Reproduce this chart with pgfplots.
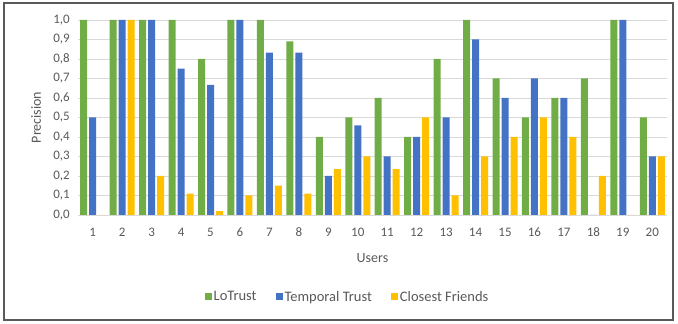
\documentclass[border=0pt]{standalone}
\usepackage{pgfplots}
\pgfplotsset{compat=1.18}
\usepackage{pgfplotstable}
\usepackage{fontspec}
\setmainfont{Carlito}
\definecolor{cgreen}{HTML}{70AD47}
\definecolor{cblue}{HTML}{4472C4}
\definecolor{cgold}{HTML}{FFC000}
\definecolor{ctext}{HTML}{595959}
\definecolor{cgrid}{HTML}{D9D9D9}
\pgfplotstableread{
user lotrust temporal closest
1  1.00 0.50  0.00
2  1.00 1.00  1.00
3  1.00 1.00  0.20
4  1.00 0.75  0.11
5  0.80 0.667 0.02
6  1.00 1.00  0.10
7  1.00 0.833 0.15
8  0.89 0.833 0.11
9  0.40 0.20  0.235
10 0.50 0.46  0.30
11 0.60 0.30  0.235
12 0.40 0.40  0.50
13 0.80 0.50  0.10
14 1.00 0.90  0.30
15 0.70 0.60  0.40
16 0.50 0.70  0.50
17 0.60 0.60  0.40
18 0.70 0.00  0.20
19 1.00 1.00  0.00
20 0.50 0.30  0.30
}\datatable
\begin{document}
\begin{tikzpicture}[x=1pt,y=1pt]
\useasboundingbox (0,0) rectangle (678,324);
\draw[color=black!65, line width=1.2pt] (4,4) rectangle (673,321);
\begin{axis}[
  at={(78pt,109pt)}, anchor=south west,
  scale only axis, width=589pt, height=195pt,
  ybar=2pt, bar width=7pt,
  xmin=0.5, xmax=20.5, ymin=0, ymax=1,
  xtick={1,...,20},
  ytick={0,0.1,0.2,0.3,0.4,0.5,0.6,0.7,0.8,0.9,1.0},
  axis x line*=bottom, axis y line*=left,
  x axis line style={draw=cgrid, line width=0.8pt, -},
  y axis line style={draw=none},
  major tick length=0pt,
  ymajorgrids, grid style={cgrid, line width=0.8pt},
  tick label style={font=\fontsize{13}{15}\selectfont, text=ctext},
  /pgf/number format/.cd, use comma, fixed, fixed zerofill, precision=1, assume math mode=true,
  /pgfplots/.cd,
  xticklabel style={anchor=center, yshift=-17pt, /pgf/number format/precision=0, /pgf/number format/fixed zerofill=false},
  yticklabel style={anchor=east, inner sep=0pt, xshift=-8pt},
  xlabel={Users}, ylabel={Precision},
  label style={font=\fontsize{14}{16}\selectfont, text=ctext},
  xlabel style={at={(axis description cs:0.5,-0.2205)}, anchor=center},
  ylabel style={at={(axis description cs:-0.0713,0.5)}, anchor=center, rotate=0},
  legend style={at={(axis description cs:0.4576,-0.42)}, anchor=center, legend columns=-1, draw=none, fill=none,
    font=\fontsize{14.5}{16}\selectfont, text=ctext,
    /tikz/every even column/.append style={column sep=17pt}},
]
\addplot[fill=cgreen, draw=none, legend image code/.code={\fill[cgreen] (0pt,-3.5pt) rectangle (7pt,3.5pt);}] table[x=user, y=lotrust] {\datatable};
\addlegendentry{LoTrust}
\addplot[fill=cblue, draw=none, legend image code/.code={\fill[cblue] (0pt,-3.5pt) rectangle (7pt,3.5pt);}] table[x=user, y=temporal] {\datatable};
\addlegendentry{Temporal Trust}
\addplot[fill=cgold, draw=none, legend image code/.code={\fill[cgold] (0pt,-3.5pt) rectangle (7pt,3.5pt);}] table[x=user, y=closest] {\datatable};
\addlegendentry{Closest Friends}
\end{axis}
\end{tikzpicture}
\end{document}
